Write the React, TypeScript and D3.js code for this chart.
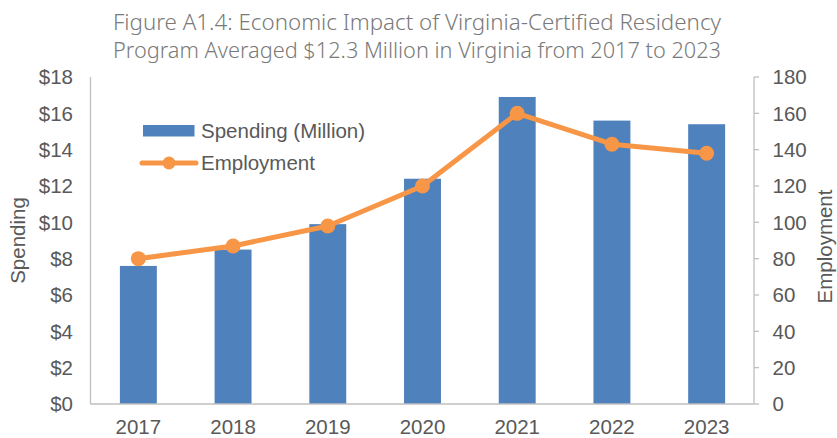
import React from "react";
import * as d3 from "d3";

const years = ["2017", "2018", "2019", "2020", "2021", "2022", "2023"];
const spending = [7.6, 8.5, 9.9, 12.4, 16.9, 15.6, 15.4];
const employment = [80, 87, 98, 120, 160, 143, 138];
const leftTicks = [0, 2, 4, 6, 8, 10, 12, 14, 16, 18];
const rightTicks = [0, 20, 40, 60, 80, 100, 120, 140, 160, 180];
const titleLines = [
  "Figure A1.4: Economic Impact of Virginia-Certified Residency",
  "Program Averaged $12.3 Million in Virginia from 2017 to 2023",
];

const W = 837, H = 438;
const M = { left: 91, right: 754, top: 77, bottom: 404 };

export default function App() {
  const band = d3.scaleBand().domain(years).range([M.left, M.right]);
  const yL = d3.scaleLinear().domain([0, 18]).range([M.bottom, M.top]);
  const yR = d3.scaleLinear().domain([0, 180]).range([M.bottom, M.top]);
  const cx = (d: string) => (band(d) as number) + band.bandwidth() / 2;
  const bw = band.bandwidth() * 0.39;
  const line = d3.line<number>().x((_, i) => cx(years[i])).y((d) => yR(d));
  const axisColor = "#bfbfbf";
  const textColor = "#595959";
  const font = "'Liberation Sans', Arial, sans-serif";
  const orange = "#F79646";
  const blue = "#4F81BD";
  const fs = 20.5;

  return (
    <svg width={W} height={H} style={{ position: "absolute", left: 0, top: 0 }} fontFamily={font}>
      <rect width={W} height={H} fill="#fff" />
      {titleLines.map((t, i) => (
        <text key={i} x={113} y={30 + i * 27.5} fontSize={21} fill="#7a7a7a"
          fontFamily="'Noto Sans', sans-serif" fontWeight={300}
          textLength={608} lengthAdjust="spacingAndGlyphs">
          {t}
        </text>
      ))}
      {/* bars */}
      {spending.map((v, i) => (
        <rect key={i} x={cx(years[i]) - bw / 2} y={yL(v)} width={bw} height={M.bottom - yL(v)} fill={blue} />
      ))}
      {/* axes */}
      <line x1={M.left - 0.5} x2={M.left - 0.5} y1={M.top} y2={M.bottom} stroke={axisColor} strokeWidth={1.3} />
      <line x1={M.right} x2={M.right} y1={M.top} y2={M.bottom} stroke={axisColor} strokeWidth={1.3} />
      <line x1={M.left - 0.5} x2={M.right} y1={M.bottom} y2={M.bottom} stroke={axisColor} strokeWidth={1.3} />
      {rightTicks.map((t) => (
        <g key={t}>
          <line x1={M.right} x2={M.right + 5} y1={yR(t)} y2={yR(t)} stroke={axisColor} strokeWidth={1.3} />
          <text x={M.right + 18.5} y={yR(t)} dy="0.35em" fontSize={fs} fill={textColor}>{t}</text>
        </g>
      ))}
      {leftTicks.map((t) => (
        <text key={t} x={M.left - 18} y={yL(t)} dy="0.35em" textAnchor="end" fontSize={fs} fill={textColor}>
          {"$" + t}
        </text>
      ))}
      {years.map((y) => (
        <text key={y} x={cx(y)} y={433.5} textAnchor="middle" fontSize={fs} fill={textColor}>{y}</text>
      ))}
      <text transform={`translate(25,${(M.top + M.bottom) / 2}) rotate(-90)`} textAnchor="middle" fontSize={fs} fill={textColor}>Spending</text>
      <text transform={`translate(832,${(M.top + M.bottom) / 2 + 6}) rotate(-90)`} textAnchor="middle" fontSize={fs} fill={textColor}>Employment</text>
      {/* line */}
      <path d={line(employment) || ""} fill="none" stroke={orange} strokeWidth={5} strokeLinejoin="round" />
      {employment.map((v, i) => (
        <circle key={i} cx={cx(years[i])} cy={yR(v)} r={7.5} fill={orange} />
      ))}
      {/* legend */}
      <rect x={143} y={125} width={51.5} height={11.5} fill={blue} />
      <text x={201} y={131} dy="0.35em" fontSize={fs} fill={textColor}>Spending (Million)</text>
      <line x1={142} x2={196} y1={163} y2={163} stroke={orange} strokeWidth={5} strokeLinecap="round" />
      <circle cx={169} cy={163} r={6.5} fill={orange} />
      <text x={201} y={163} dy="0.35em" fontSize={fs} fill={textColor}>Employment</text>
    </svg>
  );
}
